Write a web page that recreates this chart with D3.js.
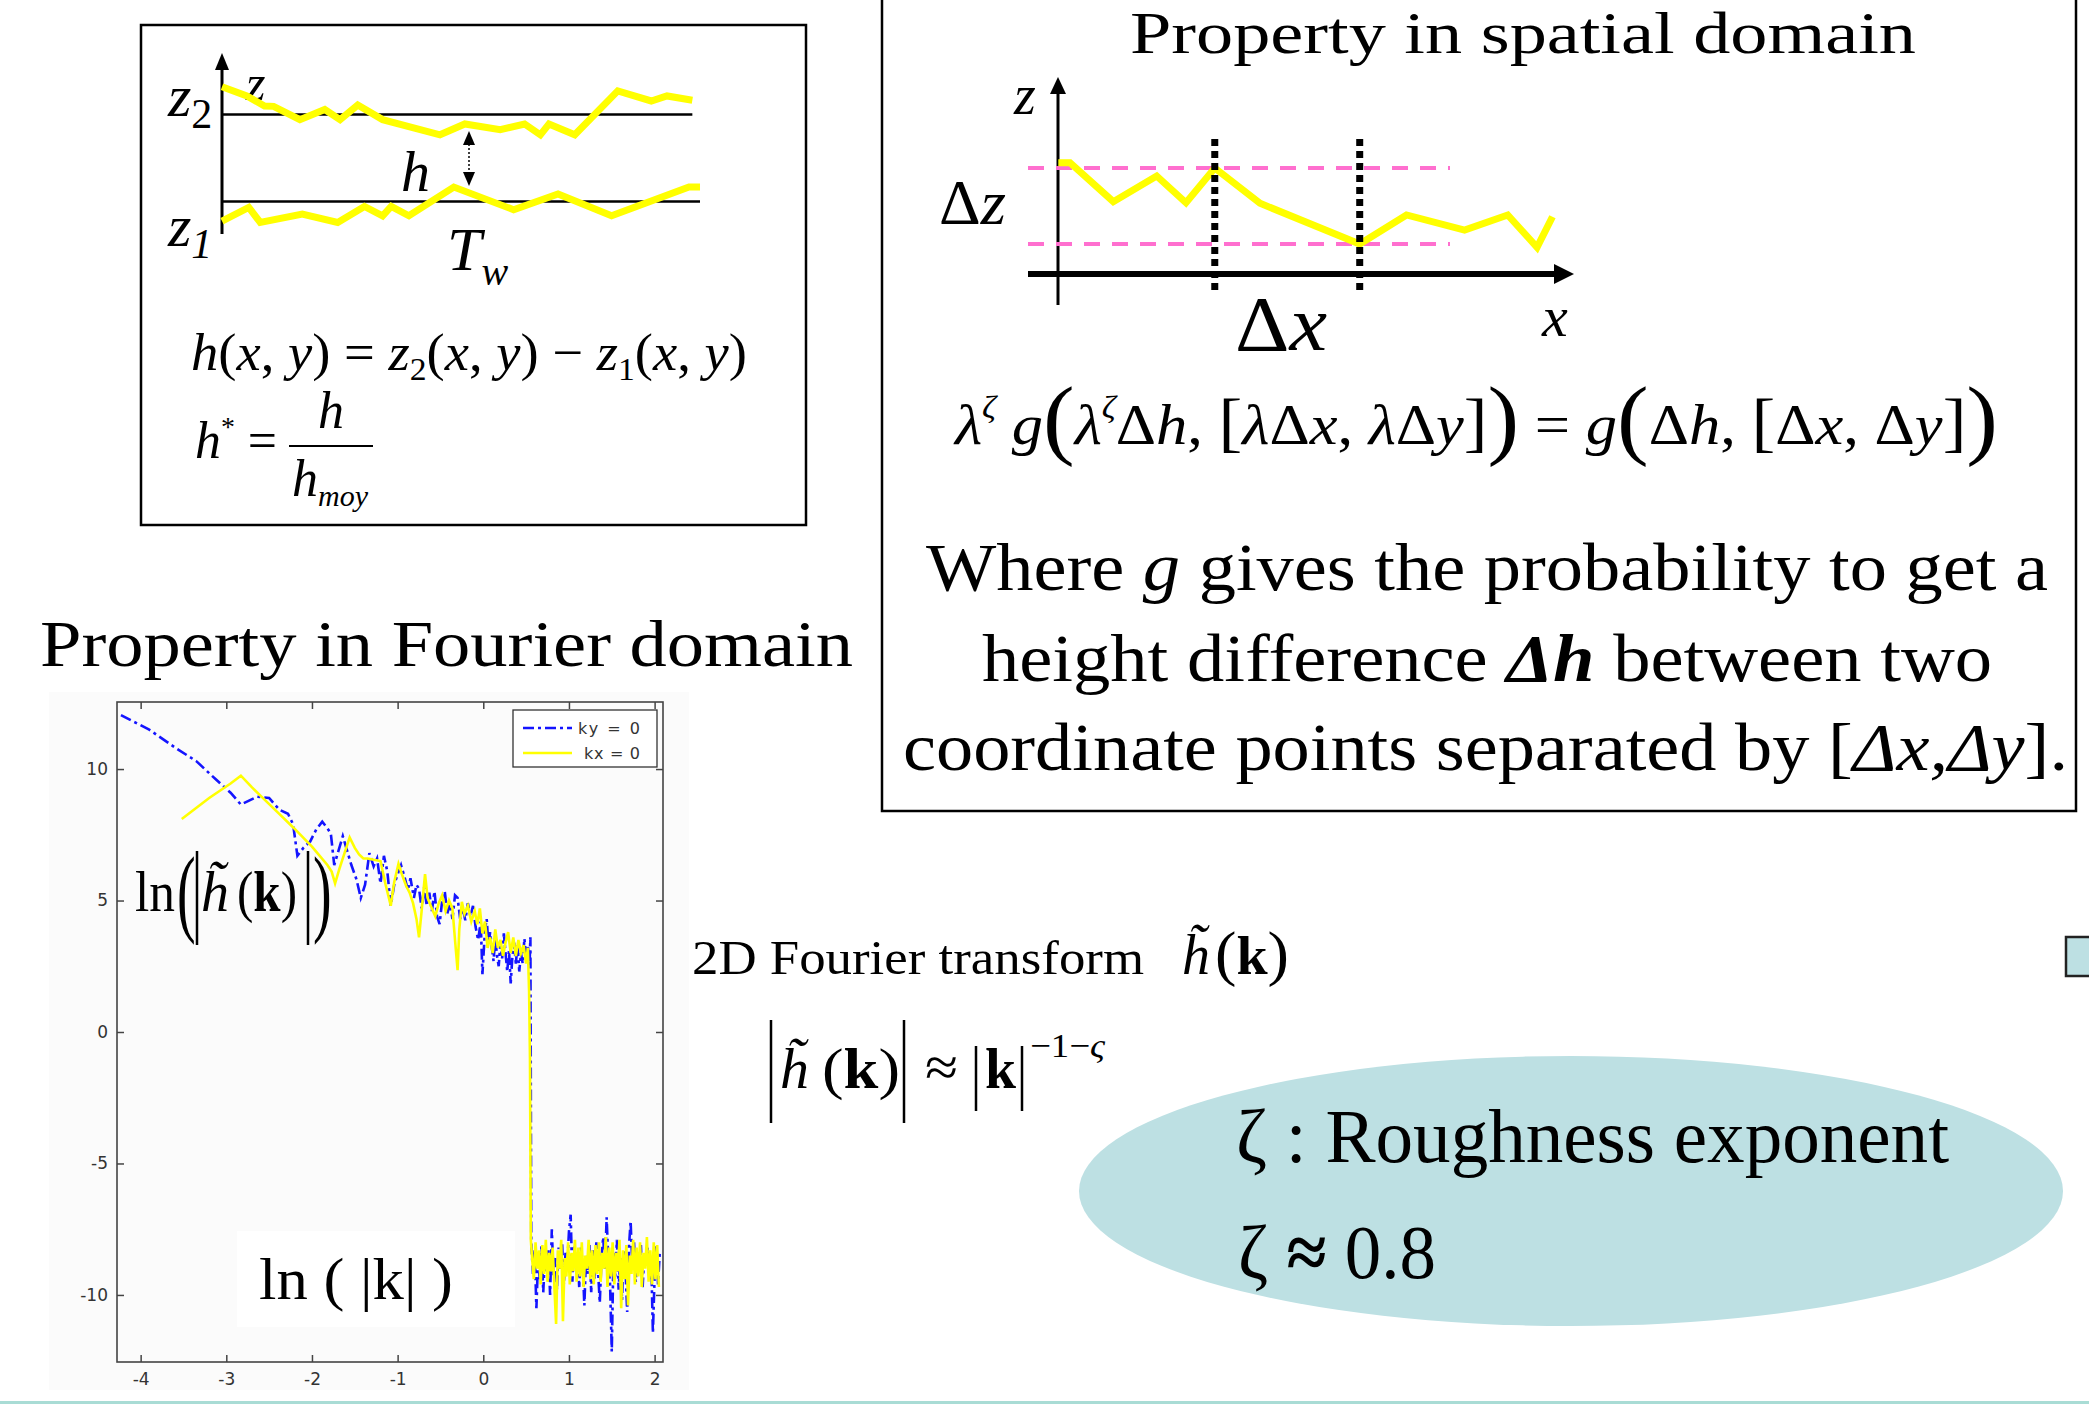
<!DOCTYPE html>
<html>
<head>
<meta charset="utf-8">
<script src="https://cdn.jsdelivr.net/npm/d3@7"></script>
<style>
  html, body { margin: 0; padding: 0; background: #fff; }
  svg { display: block; }
  text { white-space: pre; }
</style>
</head>
<body>
<svg id="slide" width="2089" height="1412"></svg>
<script>
// ---- Spectrum of the fracture height field: ln|h~(k)| against ln|k| ----
const xTicks = [-4, -3, -2, -1, 0, 1, 2];
const yTicks = [-10, -5, 0, 5, 10];
const legendLabels = ["ky = 0", "kx = 0"];

// profile along ky = 0 : [ln|k|, ln|h~|]
const kyZero = [
  [-4.23, 12.05], [-3.9, 11.5], [-3.59, 10.8], [-3.35, 10.3], [-3.12, 9.6], [-2.95, 9.1],
  [-2.83, 8.65], [-2.64, 8.95], [-2.5, 8.9], [-2.38, 8.45], [-2.28, 8.3], [-2.22, 7.9],
  [-2.17, 6.7], [-2.1, 7.0], [-2.02, 7.25], [-1.95, 7.7], [-1.88, 8.0], [-1.82, 7.75],
  [-1.78, 7.55], [-1.74, 6.35], [-1.69, 6.9], [-1.64, 7.45], [-1.59, 6.9], [-1.54, 6.35],
  [-1.48, 5.8], [-1.43, 5.1], [-1.38, 5.6], [-1.33, 6.8], [-1.28, 6.3], [-1.24, 6.6],
  [-1.2, 5.65], [-1.16, 6.7], [-1.12, 6.1], [-1.08, 4.8], [-1.04, 5.6], [-1.0, 6.0],
  [-0.96, 6.35], [-0.92, 5.9], [-0.88, 5.4], [-0.85, 5.85], [-0.81, 5.1], [-0.78, 5.6],
  [-0.75, 5.45], [-0.72, 4.7], [-0.69, 5.5], [-0.66, 4.8], [-0.63, 5.3], [-0.6, 4.6],
  [-0.57, 5.35], [-0.54, 4.4], [-0.51, 4.1], [-0.48, 5.0], [-0.45, 5.35], [-0.42, 4.5],
  [-0.39, 4.9], [-0.36, 4.3], [-0.33, 5.2], [-0.3, 5.1], [-0.27, 4.3], [-0.24, 4.7],
  [-0.21, 4.25], [-0.18, 4.9], [-0.15, 4.4], [-0.12, 4.8], [-0.09, 4.0], [-0.06, 3.5],
  [-0.03, 4.2], [-0.01, 2.2], [0.02, 3.9], [0.04, 4.3], [0.06, 3.3], [0.08, 3.8],
  [0.1, 3.2], [0.12, 2.7], [0.14, 3.6], [0.16, 2.9], [0.18, 2.5], [0.2, 3.4],
  [0.22, 2.8], [0.24, 3.75], [0.26, 3.0], [0.28, 2.3], [0.3, 3.1], [0.32, 1.85],
  [0.34, 2.9], [0.36, 3.4], [0.38, 2.6], [0.4, 3.3], [0.42, 2.3], [0.44, 3.0],
  [0.46, 2.6], [0.48, 3.55], [0.5, 2.9], [0.52, 3.3], [0.54, 2.55], [0.55, 3.6],
  [0.56, -8.0], [0.58, -9.2], [0.6, -8.3], [0.62, -10.5], [0.64, -8.6], [0.66, -9.4],
  [0.68, -8.1], [0.7, -9.9], [0.72, -8.5], [0.74, -9.1], [0.76, -8.3], [0.78, -10.0],
  [0.8, -7.5], [0.82, -9.3], [0.84, -8.6], [0.86, -9.8], [0.88, -8.2], [0.9, -9.0],
  [0.92, -8.0], [0.94, -9.6], [0.96, -8.4], [0.98, -8.9], [1.0, -7.6], [1.02, -6.95],
  [1.04, -9.5], [1.06, -8.1], [1.08, -9.0], [1.1, -8.4], [1.12, -9.7], [1.14, -8.2],
  [1.16, -8.8], [1.18, -10.4], [1.2, -8.5], [1.22, -9.2], [1.24, -8.1], [1.26, -9.9],
  [1.28, -8.3], [1.3, -9.4], [1.32, -8.0], [1.34, -9.1], [1.36, -10.3], [1.38, -8.6],
  [1.4, -7.8], [1.42, -9.0], [1.44, -7.05], [1.46, -8.7], [1.48, -9.6], [1.5, -12.15],
  [1.52, -8.4], [1.54, -9.3], [1.56, -7.9], [1.58, -9.8], [1.6, -8.6], [1.62, -10.2],
  [1.64, -8.3], [1.66, -9.0], [1.68, -10.65], [1.7, -8.2], [1.72, -7.2], [1.74, -8.9],
  [1.76, -8.0], [1.78, -9.5], [1.8, -8.4], [1.82, -9.1], [1.84, -8.1], [1.86, -9.7],
  [1.88, -8.5], [1.9, -8.9], [1.92, -8.2], [1.94, -9.4], [1.96, -8.6], [1.98, -11.45],
  [2.0, -9.3], [2.02, -8.1], [2.04, -9.6], [2.06, -8.4]
];

// profile along kx = 0 : [ln|k|, ln|h~|]
const kxZero = [
  [-3.52, 8.1], [-3.2, 8.9], [-2.95, 9.45], [-2.83, 9.75], [-2.7, 9.3], [-2.59, 8.95],
  [-2.4, 8.35], [-2.21, 7.75], [-2.0, 7.05], [-1.82, 6.35], [-1.77, 6.1], [-1.73, 5.65],
  [-1.68, 6.2], [-1.62, 6.8], [-1.56, 7.4], [-1.5, 7.0], [-1.45, 6.75], [-1.4, 6.6],
  [-1.35, 6.6], [-1.28, 6.55], [-1.2, 6.5], [-1.14, 5.6], [-1.08, 4.8], [-1.04, 5.7],
  [-0.99, 6.4], [-0.95, 6.0], [-0.9, 5.55], [-0.86, 5.3], [-0.82, 4.9], [-0.78, 4.3],
  [-0.75, 3.6], [-0.72, 4.6], [-0.68, 6.0], [-0.65, 5.1], [-0.6, 4.7], [-0.56, 4.4],
  [-0.52, 4.9], [-0.48, 5.2], [-0.44, 4.6], [-0.4, 5.0], [-0.36, 4.7], [-0.33, 3.5],
  [-0.3, 2.35], [-0.28, 3.9], [-0.25, 4.95], [-0.22, 4.5], [-0.18, 4.8], [-0.14, 4.2],
  [-0.1, 4.6], [-0.07, 4.1], [-0.04, 4.7], [-0.01, 3.75], [0.02, 4.2], [0.05, 3.2],
  [0.08, 3.6], [0.11, 3.0], [0.14, 3.9], [0.17, 3.2], [0.2, 3.5], [0.23, 2.9],
  [0.26, 3.4], [0.29, 3.8], [0.32, 3.0], [0.35, 3.6], [0.38, 2.9], [0.41, 3.5],
  [0.44, 3.0], [0.47, 3.3], [0.5, 2.6], [0.52, 3.2], [0.535, 1.5], [0.545, -1.0],
  [0.555, -7.9], [0.57, -8.6], [0.59, -9.4], [0.61, -8.0], [0.63, -9.0], [0.65, -8.3],
  [0.67, -9.6], [0.69, -8.1], [0.71, -9.2], [0.73, -7.9], [0.75, -9.5], [0.77, -8.4],
  [0.79, -9.1], [0.81, -8.2], [0.83, -9.7], [0.85, -11.1], [0.87, -8.3], [0.89, -9.0],
  [0.91, -7.9], [0.93, -11.0], [0.95, -8.6], [0.97, -9.3], [0.99, -8.0], [1.01, -9.6],
  [1.03, -8.4], [1.05, -9.1], [1.07, -7.9], [1.09, -9.5], [1.11, -8.2], [1.13, -9.3],
  [1.15, -8.0], [1.17, -9.7], [1.19, -8.5], [1.21, -9.0], [1.23, -7.9], [1.25, -9.4],
  [1.27, -8.3], [1.29, -9.6], [1.31, -8.1], [1.33, -9.2], [1.35, -8.0], [1.37, -9.5],
  [1.39, -8.4], [1.41, -9.0], [1.43, -7.8], [1.45, -9.7], [1.47, -8.2], [1.49, -9.3],
  [1.51, -8.0], [1.53, -9.6], [1.55, -8.4], [1.57, -9.1], [1.59, -7.9], [1.61, -10.5],
  [1.63, -8.3], [1.65, -9.4], [1.67, -8.1], [1.69, -10.4], [1.71, -8.5], [1.73, -9.2],
  [1.75, -7.9], [1.77, -9.6], [1.79, -8.2], [1.81, -9.3], [1.83, -8.0], [1.85, -9.7],
  [1.87, -8.4], [1.89, -9.0], [1.91, -7.8], [1.93, -9.5], [1.95, -8.3], [1.97, -9.6],
  [1.99, -8.0], [2.01, -9.4], [2.03, -8.1], [2.05, -9.7]
];

// ---- Crack surfaces z2 (upper) and z1 (lower): [position, height] ----
const surfaceUpper = [
  [0, 13.2], [5.2, 12.15], [8.9, 10.99], [10.8, 10.95], [16.3, 9.42], [21.5, 10.59],
  [24.7, 9.42], [28.4, 11.11], [33.6, 9.42], [45.6, 7.67], [50.8, 8.92], [58.2, 8.26],
  [63.3, 8.92], [66.6, 7.67], [68.4, 8.92], [73.8, 7.67], [82.8, 12.73], [89.8, 11.57],
  [93.1, 12.15], [98.4, 11.65]
];
const surfaceLower = [
  [0, -2.26], [5.6, -0.69], [8.0, -2.43], [16.8, -1.45], [24.2, -2.43], [29.8, -0.58],
  [33.6, -1.66], [35.4, -0.58], [39.1, -1.66], [48.5, 1.65], [61.0, -0.96], [70.3, 0.86],
  [81.5, -1.66], [97.7, 1.65], [100, 1.65]
];
const referenceLevels = [10, 0];     // mean planes z2, z1
const referenceEnds = [98.4, 100];

// ---- Height profile z(x) used for the scaling property ----
const heightProfile = [
  [0.06, 14.7], [2.33, 14.7], [10.76, 9.57], [19.2, 12.95], [24.9, 9.43], [30.5, 14.0],
  [39.3, 9.36], [58.7, 4.0], [67.8, 7.82], [79.1, 5.84], [87.5, 7.82], [93.2, 3.57],
  [96.2, 7.59]
];
const deltaZLevels = [14, 4];
const deltaXMarks = [30.5, 58.7];

// ----------------------------------------------------------------
const SERIF = "'Liberation Serif','Times New Roman',serif";
const SANS = "'DejaVu Sans','Liberation Sans',Arial,sans-serif";
const svg = d3.select("#slide");

// rich text: parts are [text, style("i","b"), fontSize, baselineShift]
function rich(parent, x, y, size, parts, opt = {}) {
  const t = parent.append("text")
    .attr("x", x).attr("y", y)
    .attr("font-family", opt.family || SERIF)
    .attr("font-size", size)
    .attr("text-anchor", opt.anchor || "start")
    .attr("fill", opt.fill || "#000");
  let shift = 0;
  parts.forEach(p => {
    if (typeof p === "string") p = [p];
    const [txt, st = "", fs, base = 0] = p;
    const s = t.append("tspan").text(txt);
    if (st.includes("i")) s.attr("font-style", "italic");
    if (st.includes("b")) s.attr("font-weight", "bold");
    if (fs) s.attr("font-size", fs);
    const dy = base - shift;
    if (dy) s.attr("dy", dy);
    shift = base;
  });
  if (opt.width) t.attr("textLength", opt.width).attr("lengthAdjust", "spacingAndGlyphs");
  return t;
}

// a delimiter stretched vertically only
function tallGlyph(parent, x, y, size, stretch, glyph) {
  parent.append("text")
    .attr("transform", `translate(${x},${y}) scale(1,${stretch})`)
    .attr("font-family", SERIF).attr("font-size", size).attr("fill", "#000")
    .text(glyph);
}

function arrowHead(parent, tip, dir, len, half) {
  const [tx, ty] = tip;
  let pts;
  if (dir === "up") pts = [[tx, ty], [tx - half, ty + len], [tx + half, ty + len]];
  else if (dir === "down") pts = [[tx, ty], [tx - half, ty - len], [tx + half, ty - len]];
  else pts = [[tx, ty], [tx - len, ty - half], [tx - len, ty + half]];
  parent.append("path").attr("d", d3.line()(pts) + "Z").attr("fill", "#000");
}

function vbar(parent, bx, y1, y2) {
  parent.append("line").attr("x1", bx).attr("x2", bx).attr("y1", y1).attr("y2", y2)
    .attr("stroke", "#000").attr("stroke-width", 2.5);
}

// ================= Top-left panel: crack opening =================
const tl = svg.append("g");
tl.append("rect").attr("x", 141).attr("y", 25).attr("width", 665).attr("height", 500)
  .attr("fill", "#fff").attr("stroke", "#000").attr("stroke-width", 2.5);

const tlX = d3.scaleLinear().domain([0, 100]).range([222, 700]);
const tlY = d3.scaleLinear().domain([0, 10]).range([201.4, 114.6]);

tl.append("line").attr("x1", 222).attr("x2", 222).attr("y1", 234).attr("y2", 66)
  .attr("stroke", "#000").attr("stroke-width", 3);
arrowHead(tl, [222, 53], "up", 17, 7);

rich(tl, 246, 100, 50, [["z", "i"]]);
rich(tl, 168, 116, 60, [["z", "i"], ["2", "", 42, 12]]);
rich(tl, 168, 246, 60, [["z", "i"], ["1", "i", 42, 12]]);

referenceLevels.forEach((lv, i) => {
  tl.append("line").attr("x1", tlX(0)).attr("x2", tlX(referenceEnds[i]))
    .attr("y1", tlY(lv)).attr("y2", tlY(lv))
    .attr("stroke", "#000").attr("stroke-width", 2.5);
});

const tlLine = d3.line().x(d => tlX(d[0])).y(d => tlY(d[1]));
[surfaceUpper, surfaceLower].forEach(s => {
  tl.append("path").datum(s).attr("d", tlLine).attr("fill", "none")
    .attr("stroke", "#ffff00").attr("stroke-width", 7).attr("stroke-linejoin", "miter");
});

// opening h between the surfaces
tl.append("line").attr("x1", 469).attr("x2", 469).attr("y1", 144).attr("y2", 173)
  .attr("stroke", "#000").attr("stroke-width", 1.5).attr("stroke-dasharray", "2,2");
arrowHead(tl, [469, 131], "up", 14, 6);
arrowHead(tl, [469, 186], "down", 14, 6);

rich(tl, 401, 191, 58, [["h", "i"]]);
rich(tl, 447, 270, 62, [["T", "i"], ["w", "i", 40, 15]]);

rich(tl, 191, 370, 52, [
  ["h", "i"], ["("], ["x", "i"], [", "], ["y", "i"], [") = "], ["z", "i"], ["2", "", 32, 10],
  ["("], ["x", "i"], [", "], ["y", "i"], [") − "], ["z", "i"], ["1", "", 32, 10],
  ["("], ["x", "i"], [", "], ["y", "i"], [")"]
], { width: 556 });

rich(tl, 195, 458, 52, [["h", "i"], ["*", "", 28, -22], [" ="]], { width: 82 });
tl.append("line").attr("x1", 289).attr("x2", 373).attr("y1", 446).attr("y2", 446)
  .attr("stroke", "#000").attr("stroke-width", 2);
rich(tl, 331, 428, 52, [["h", "i"]], { anchor: "middle" });
rich(tl, 292, 496, 52, [["h", "i"], ["moy", "i", 30, 10]]);

// ================= Top-right panel: spatial scaling =================
const tr = svg.append("g");
tr.append("rect").attr("x", 882).attr("y", -20).attr("width", 1194).attr("height", 831)
  .attr("fill", "#fff").attr("stroke", "#000").attr("stroke-width", 2.5);

rich(tr, 1130, 53, 60, ["Property in spatial domain"], { width: 786 });

const spX = d3.scaleLinear().domain([0, 100]).range([1058, 1572]);
const spY = d3.scaleLinear().domain([0, 14]).range([274.4, 168]);

// axes
tr.append("line").attr("x1", 1058).attr("x2", 1058).attr("y1", 305).attr("y2", 90)
  .attr("stroke", "#000").attr("stroke-width", 3);
arrowHead(tr, [1058, 77], "up", 17, 8);
tr.append("line").attr("x1", 1028).attr("x2", 1556).attr("y1", 274).attr("y2", 274)
  .attr("stroke", "#000").attr("stroke-width", 6);
arrowHead(tr, [1574, 274], "right", 20, 10);

// band of heights delta z
deltaZLevels.forEach(lv => {
  tr.append("line").attr("x1", 1028).attr("x2", 1450).attr("y1", spY(lv)).attr("y2", spY(lv))
    .attr("stroke", "#ff6fcf").attr("stroke-width", 4).attr("stroke-dasharray", "16,12");
});

tr.append("path").datum(heightProfile)
  .attr("d", d3.line().x(d => spX(d[0])).y(d => spY(d[1])))
  .attr("fill", "none").attr("stroke", "#ffff00").attr("stroke-width", 7);

deltaXMarks.forEach(m => {
  tr.append("line").attr("x1", spX(m)).attr("x2", spX(m)).attr("y1", 139).attr("y2", 291)
    .attr("stroke", "#000").attr("stroke-width", 7).attr("stroke-dasharray", "7,5");
});

rich(tr, 1014, 114, 56, [["z", "i"]]);
rich(tr, 939, 224, 64, [["Δ"], ["z", "i"]], { width: 67 });
rich(tr, 1235, 350, 78, [["Δ"], ["x", "i"]], { width: 92 });
rich(tr, 1542, 336, 58, [["x", "i"]]);

rich(tr, 955, 444, 58, [
  ["λ", "i"], ["ζ", "i", 32, -26], [" "], ["g", "i"], ["(", "", 88, 4], ["λ", "i"], ["ζ", "i", 32, -26],
  ["Δ"], ["h", "i"], [", "], ["[", "", 66], ["λ", "i"], ["Δ"], ["x", "i"], [", "], ["λ", "i"], ["Δ"],
  ["y", "i"], ["]", "", 66], [")", "", 88, 4], [" = "], ["g", "i"], ["(", "", 88, 4], ["Δ"], ["h", "i"], [", "],
  ["[", "", 66], ["Δ"], ["x", "i"], [", "], ["Δ"], ["y", "i"], ["]", "", 66], [")", "", 88, 4]
], { width: 1043 });

rich(tr, 926, 590, 68, ["Where ", ["g", "i"], " gives the probability to get a"], { width: 1122 });
rich(tr, 982, 681, 68, ["height difference ", ["Δh", "bi"], " between two"], { width: 1010 });
rich(tr, 903, 770, 68, ["coordinate points separated by [", ["Δx,Δy", "i"], "]."], { width: 1165 });

// ================= Fourier-domain chart =================
rich(svg, 40, 666, 66, ["Property in Fourier domain"], { width: 813 });

const chart = svg.append("g");
chart.append("rect").attr("x", 49).attr("y", 692).attr("width", 640).attr("height", 698)
  .attr("fill", "#fbfbfb");

const plotL = 117, plotR = 663, plotT = 702, plotB = 1362;
const x = d3.scaleLinear().domain([-4.276, 2.098]).range([plotL, plotR]);
const y = d3.scaleLinear().domain([-12.55, 12.55]).range([plotB, plotT]);

chart.append("clipPath").attr("id", "plotClip").append("rect")
  .attr("x", plotL).attr("y", plotT).attr("width", plotR - plotL).attr("height", plotB - plotT);

function styleAxis(g) {
  g.select(".domain").remove();
  g.selectAll(".tick line").attr("stroke", "#444").attr("stroke-width", 1.5);
  g.selectAll(".tick text").attr("fill", "#333").attr("font-family", SANS).attr("font-size", 17);
}
chart.append("g").attr("transform", `translate(0,${plotB})`)
  .call(d3.axisBottom(x).tickValues(xTicks).tickSize(-7).tickPadding(11).tickFormat(d => String(d)))
  .call(styleAxis);
chart.append("g").attr("transform", `translate(0,${plotT})`)
  .call(d3.axisTop(x).tickValues(xTicks).tickSize(-7).tickFormat(""))
  .call(styleAxis);
chart.append("g").attr("transform", `translate(${plotL},0)`)
  .call(d3.axisLeft(y).tickValues(yTicks).tickSize(-7).tickPadding(9).tickFormat(d => String(d)))
  .call(styleAxis);
chart.append("g").attr("transform", `translate(${plotR},0)`)
  .call(d3.axisRight(y).tickValues(yTicks).tickSize(-7).tickFormat(""))
  .call(styleAxis);

// axis label ln(|k|) sits on a plain backing box
chart.append("rect").attr("x", 237).attr("y", 1231).attr("width", 278).attr("height", 96).attr("fill", "#fff");
rich(chart, 259, 1299, 60, ["ln ( |k| )"], { width: 194 });

const series = chart.append("g").attr("clip-path", "url(#plotClip)");
const lineGen = d3.line().x(d => x(d[0])).y(d => y(d[1]));
series.append("path").datum(kyZero).attr("d", lineGen).attr("fill", "none")
  .attr("stroke", "#1414ff").attr("stroke-width", 2.6).attr("stroke-dasharray", "11,4,3,4");
series.append("path").datum(kxZero).attr("d", lineGen).attr("fill", "none")
  .attr("stroke", "#ffff00").attr("stroke-width", 2.6);

chart.append("rect").attr("x", plotL).attr("y", plotT).attr("width", plotR - plotL).attr("height", plotB - plotT)
  .attr("fill", "none").attr("stroke", "#444").attr("stroke-width", 1.6);

// legend
const lg = chart.append("g");
lg.append("rect").attr("x", 513).attr("y", 710).attr("width", 144).attr("height", 57)
  .attr("fill", "#fff").attr("stroke", "#333").attr("stroke-width", 1.3);
const legendStyles = [
  { stroke: "#1414ff", dash: "11,4,3,4", tx: 578 },
  { stroke: "#ffff00", dash: null, tx: 584 }
];
legendLabels.forEach((lab, i) => {
  const ly = 728 + i * 25;
  lg.append("line").attr("x1", 523).attr("x2", 572).attr("y1", ly).attr("y2", ly)
    .attr("stroke", legendStyles[i].stroke).attr("stroke-width", 2.4)
    .attr("stroke-dasharray", legendStyles[i].dash);
  lg.append("text").attr("x", legendStyles[i].tx).attr("y", ly + 6)
    .attr("font-family", SANS).attr("font-size", 16).attr("fill", "#333")
    .attr("textLength", 640 - legendStyles[i].tx).attr("lengthAdjust", "spacing")
    .style("white-space", "pre").text(lab);
});

// vertical label ln(|h~(k)|)
vbar(chart, 197, 851, 945);
vbar(chart, 308, 851, 945);
rich(chart, 135, 911, 56, ["ln"], { width: 40 });
tallGlyph(chart, 177, 924, 56, 1.75, "(");
rich(chart, 201, 911, 56, [["h\u0303", "i"]]);
rich(chart, 237, 911, 56, ["(", ["k", "b"], ")"], { width: 60 });
tallGlyph(chart, 313, 924, 56, 1.75, ")");

// ================= Fourier transform relations =================
const mid = svg.append("g");
rich(mid, 692, 974, 48, ["2D Fourier transform"], { width: 452 });
rich(mid, 1182, 974, 56, [["h\u0303", "i"]]);
rich(mid, 1215, 974, 54, [["(", "", 62], ["k", "b"], [")", "", 62]], { width: 74 });

vbar(mid, 771, 1020, 1123);
vbar(mid, 904, 1020, 1123);
vbar(mid, 976, 1046, 1111);
vbar(mid, 1022, 1046, 1111);
rich(mid, 780, 1088, 58, [["h\u0303", "i"]]);
rich(mid, 822, 1088, 58, ["(", ["k", "b", 56], ")"], { width: 78 });
rich(mid, 925, 1086, 56, ["≈"], { width: 33 });
rich(mid, 985, 1088, 56, [["k", "b"]], { width: 31 });
rich(mid, 1030, 1057, 34, ["−1−", ["ς", "i"]], { width: 75 });

// ================= Roughness exponent =================
svg.append("ellipse").attr("cx", 1571).attr("cy", 1191).attr("rx", 492).attr("ry", 135)
  .attr("fill", "#bde0e3");
rich(svg, 1236, 1162, 76, ["ζ : Roughness exponent"], { width: 713 });
rich(svg, 1238, 1278, 76, ["ζ ", ["≈", "b"], " 0.8"], { width: 198 });

svg.append("rect").attr("x", 2066).attr("y", 937).attr("width", 40).attr("height", 39)
  .attr("fill", "#bde0e3").attr("stroke", "#222").attr("stroke-width", 2.5);

svg.append("rect").attr("x", 0).attr("y", 1401).attr("width", 2089).attr("height", 3)
  .attr("fill", "#a9dcd5");
</script>
</body>
</html>
